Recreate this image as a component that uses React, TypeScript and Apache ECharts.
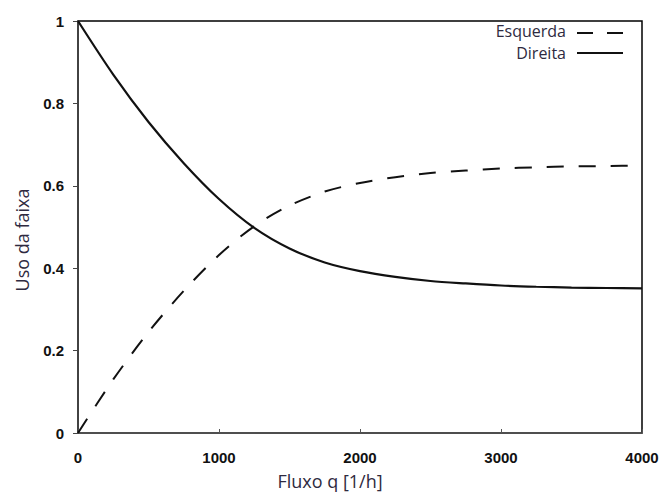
import React, { useEffect, useRef } from "react";
import * as echarts from "echarts";

const fluxo = [0, 250, 500, 750, 1000, 1250, 1500, 1750, 2000, 2250, 2500, 2750, 3000, 3250, 3500, 3750, 4000];
const direita = [1.0, 0.87, 0.755, 0.655, 0.568, 0.498, 0.448, 0.414, 0.393, 0.379, 0.369, 0.363, 0.358, 0.355, 0.353, 0.352, 0.351];
const esquerda = [0.0, 0.13, 0.245, 0.345, 0.432, 0.502, 0.552, 0.586, 0.607, 0.621, 0.631, 0.637, 0.642, 0.645, 0.647, 0.648, 0.649];
const legendNames = ["Esquerda", "Direita"];
const xName = "Fluxo q [1/h]";
const yName = "Uso da faixa";

const textColor = "#2e2a40";
const labelFont = "'Open Sans', 'Noto Sans', sans-serif";

export default function App() {
  const ref = useRef<HTMLDivElement>(null);
  useEffect(() => {
    if (!ref.current) return;
    const chart = echarts.init(ref.current, undefined, { renderer: "svg" });
    const option: any = {
      animation: false,
      backgroundColor: "#fff",
      grid: {
        left: 78,
        right: 20,
        top: 21,
        bottom: 59,
        show: true,
        borderColor: "#000",
        borderWidth: 1.5,
        backgroundColor: "transparent",
      },
      xAxis: {
        type: "value",
        min: 0,
        max: 4000,
        interval: 1000,
        axisLine: { show: true, onZero: false, lineStyle: { color: "#555", width: 1.5 } },
        axisTick: { show: true, inside: true, length: 4, lineStyle: { color: "#555" } },
        splitLine: { show: false },
        axisLabel: {
          color: "#111",
          fontFamily: "'Liberation Sans', Arial, sans-serif",
          fontWeight: "bold",
          fontSize: 15,
          margin: 17,
          formatter: (v: number) => String(v),
        },
      },
      yAxis: {
        type: "value",
        min: 0,
        max: 1,
        interval: 0.2,
        axisLine: { show: true, onZero: false, lineStyle: { color: "#444", width: 1.5 } },
        axisTick: { show: true, inside: false, length: 5, lineStyle: { color: "#444" } },
        splitLine: { show: false },
        axisLabel: {
          color: "#111",
          fontFamily: "'Liberation Sans', Arial, sans-serif",
          fontWeight: "bold",
          fontSize: 15,
          margin: 14,
        },
      },
      series: [
        {
          name: legendNames[0],
          type: "line",
          smooth: 0.3,
          showSymbol: false,
          data: fluxo.map((q, i) => [q, esquerda[i]]),
          lineStyle: { color: "#111", width: 2, type: [17, 15] },
        },
        {
          name: legendNames[1],
          type: "line",
          smooth: 0.3,
          showSymbol: false,
          data: fluxo.map((q, i) => [q, direita[i]]),
          lineStyle: { color: "#111", width: 2.2, type: "solid" },
        },
      ],
      graphic: [
        {
          type: "text",
          x: 330,
          y: 481,
          style: {
            text: xName,
            fill: textColor,
            font: `18px ${labelFont}`,
            textAlign: "center",
            textVerticalAlign: "middle",
          },
        },
        {
          type: "text",
          x: 22,
          y: 240,
          rotation: Math.PI / 2,
          style: {
            text: yName,
            fill: textColor,
            font: `18px ${labelFont}`,
            textAlign: "center",
            textVerticalAlign: "middle",
          },
        },
        {
          type: "text",
          x: 566,
          y: 31,
          style: {
            text: legendNames[0],
            fill: textColor,
            font: `16px ${labelFont}`,
            textAlign: "right",
            textVerticalAlign: "middle",
          },
        },
        {
          type: "text",
          x: 566,
          y: 53,
          style: {
            text: legendNames[1],
            fill: textColor,
            font: `16px ${labelFont}`,
            textAlign: "right",
            textVerticalAlign: "middle",
          },
        },
        {
          type: "line",
          shape: { x1: 577, y1: 33, x2: 623, y2: 33 },
          style: { stroke: "#111", lineWidth: 2, lineDash: [16, 14] },
        },
        {
          type: "line",
          shape: { x1: 577, y1: 53, x2: 623, y2: 53 },
          style: { stroke: "#111", lineWidth: 2 },
        },
      ],
    };
    chart.setOption(option);
    return () => chart.dispose();
  }, []);
  return <div ref={ref} style={{ width: 662, height: 492, position: "absolute", left: 0, top: 0 }} />;
}
